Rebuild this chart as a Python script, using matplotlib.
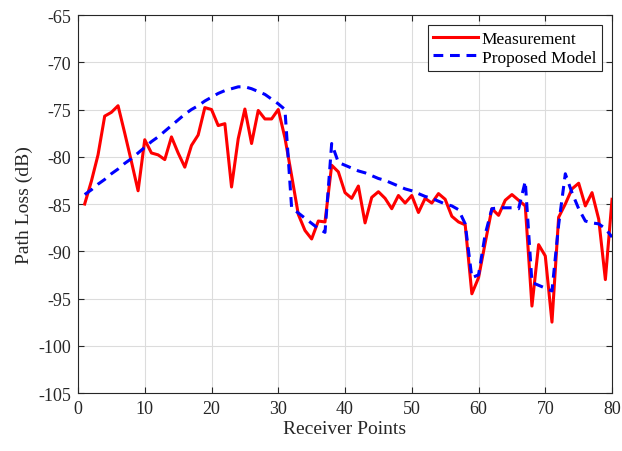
import matplotlib
matplotlib.use("Agg")
import matplotlib.pyplot as plt
import numpy as np

receiver_points = list(range(1, 81))

measurement = [
    -85.0, -82.6, -79.8, -75.7, -75.3, -74.6, -77.5, -80.5, -83.6, -78.2,
    -79.6, -79.8, -80.3, -77.9, -79.6, -81.1, -78.8, -77.7, -74.8, -75.0,
    -76.7, -76.5, -83.2, -78.1, -74.95, -78.6, -75.1, -76.0, -76.0, -75.0,
    -78.0, -82.0, -86.1, -87.8, -88.7, -86.8, -86.9, -80.9, -81.6, -83.8,
    -84.4, -83.1, -87.0, -84.3, -83.7, -84.4, -85.5, -84.1, -84.9, -84.1,
    -85.9, -84.4, -84.9, -83.9, -84.5, -86.3, -86.9, -87.2, -94.5, -92.8,
    -89.1, -85.5, -86.2, -84.6, -84.0, -84.6, -85.2, -95.8, -89.3, -90.5,
    -97.5, -86.4, -85.0, -83.4, -82.8, -85.2, -83.8, -86.6, -93.0, -84.5,
]

proposed_model = [
    -84.0, -83.5, -82.9, -82.4, -81.8, -81.3, -80.7, -80.2, -79.6, -79.0,
    -78.4, -77.9, -77.3, -76.7, -76.1, -75.5, -75.0, -74.6, -74.1, -73.7,
    -73.3, -73.0, -72.8, -72.6, -72.6, -72.8, -73.1, -73.4, -73.9, -74.4,
    -75.0, -85.4, -85.95, -86.5, -87.05, -87.6, -88.0, -78.6, -80.6, -80.9,
    -81.2, -81.5, -81.7, -82.0, -82.3, -82.5, -82.8, -83.1, -83.4, -83.6,
    -83.9, -84.2, -84.4, -84.7, -85.0, -85.2, -85.6, -87.1, -92.8, -92.5,
    -88.2, -85.5, -85.4, -85.4, -85.4, -85.5, -82.6, -93.3, -93.6, -93.9,
    -94.2, -87.2, -81.8, -83.8, -85.5, -86.8, -87.0, -87.1, -87.6, -88.5,
]

x_ticks = [0, 10, 20, 30, 40, 50, 60, 70, 80]
y_ticks = [-105, -100, -95, -90, -85, -80, -75, -70, -65]

plt.rcParams["font.family"] = ["Liberation Serif", "DejaVu Serif"]
plt.rcParams["axes.unicode_minus"] = False

fig = plt.figure(figsize=(6.22, 4.52), dpi=100)
ax = fig.add_axes([0.1254, 0.1283, 0.8586, 0.8363])

ax.plot(receiver_points, measurement, color="#ff0000", lw=2.2,
        label="Measurement", zorder=3)
ax.plot(receiver_points, proposed_model, color="#0000ff", lw=2.2,
        linestyle=(0, (3.2, 2.2)), label="Proposed Model", zorder=4)

ax.set_xlim(0, 80)
ax.set_ylim(-105, -65)
ax.set_xticks(x_ticks)
ax.set_yticks(y_ticks)
ax.grid(True, color="#dcdcdc", lw=0.8)
ax.set_axisbelow(True)

for side in ["left", "bottom", "right", "top"]:
    ax.spines[side].set_color("#262626")
    ax.spines[side].set_linewidth(0.8)
ax.tick_params(direction="in", length=4, width=0.8, color="#262626",
               labelsize=13, labelcolor="#262626", top=True, right=True, pad=5)

ax.set_xlabel("Receiver Points", fontsize=14, color="#262626", labelpad=2)
ax.set_ylabel("Path Loss (dB)", fontsize=14, color="#262626", labelpad=4)

leg = ax.legend(loc="upper right", fontsize=12.5, frameon=True, fancybox=False,
                edgecolor="#262626", framealpha=1, borderpad=0.3,
                handlelength=2.6, handletextpad=0.2, labelspacing=0.15,
                borderaxespad=0.6)
leg.get_frame().set_linewidth(0.8)

fig.savefig("out.png", dpi=100)
